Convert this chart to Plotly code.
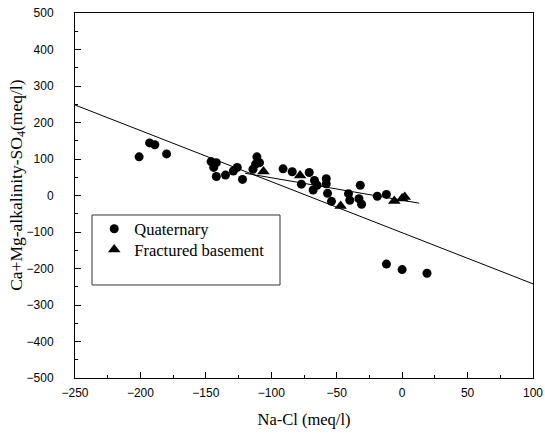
import plotly.graph_objects as go

# Quaternary samples
quat_x = [-201, -193, -189, -180, -146, -142, -144, -142, -135, -129, -126, -122,
          -114, -112, -111, -109, -91, -84, -71, -77, -67, -65, -68, -58, -58, -57,
          -54, -41, -40, -32, -33, -31, -19, -12, -12, 0, 19]
quat_y = [106, 144, 139, 114, 93, 90, 77, 52, 56, 67, 77, 44,
          72, 86, 106, 90, 73, 65, 63, 31, 41, 28, 15, 46, 32, 6,
          -16, 5, -13, 28, -9, -24, -2, 3, -188, -203, -213]

# Fractured basement samples
base_x = [-106, -78, -47, -6, 0, 2]
base_y = [66, 55, -29, -15, -8, -4]

# Trend lines
fit_all_x = [-250, 100]
fit_all_y = [248, -242]
fit_short_x = [-120, 13]
fit_short_y = [61, -21]

x_range = [-250, 100]
y_range = [-500, 500]

serif = "Liberation Serif, Times New Roman, serif"
sans = "Liberation Sans, Arial, sans-serif"

fig = go.Figure()
fig.add_trace(go.Scatter(x=fit_all_x, y=fit_all_y, mode="lines",
                         line=dict(color="black", width=1), showlegend=False,
                         hoverinfo="skip"))
fig.add_trace(go.Scatter(x=fit_short_x, y=fit_short_y, mode="lines",
                         line=dict(color="black", width=1), showlegend=False,
                         hoverinfo="skip"))
fig.add_trace(go.Scatter(x=quat_x, y=quat_y, mode="markers", name="Quaternary",
                         legend="legend",
                         marker=dict(symbol="circle", size=9, color="black")))
fig.add_trace(go.Scatter(x=base_x, y=base_y, mode="markers", name="Fractured basement",
                         legend="legend2",
                         marker=dict(symbol="triangle-up", size=11, color="black")))

fig.add_shape(type="rect", xref="paper", yref="paper",
              x0=0.0371, x1=0.4476, y0=0.2548, y1=0.4466,
              line=dict(color="#333333", width=1), fillcolor="white", layer="below")

fig.add_annotation(text="Ca+Mg-alkalinity-SO<sub>4</sub>(meq/l)",
                   xref="paper", yref="paper", x=-0.126, y=0.53,
                   xanchor="center", yanchor="middle", textangle=-90,
                   showarrow=False,
                   font=dict(family=serif, size=17.5, color="black"))

leg_common = dict(xanchor="left", yanchor="middle",
                  bgcolor="rgba(0,0,0,0)", borderwidth=0,
                  font=dict(family=serif, size=16.5, color="black"))

fig.update_layout(
    width=545, height=434,
    margin=dict(l=75, r=12, t=13, b=56, autoexpand=False),
    paper_bgcolor="white", plot_bgcolor="white",
    showlegend=True,
    legend=dict(x=0.042, y=0.408, **leg_common),
    legend2=dict(x=0.042, y=0.351, **leg_common),
    xaxis=dict(range=x_range, dtick=50, tick0=-250, showgrid=False, zeroline=False,
               automargin=False,
               showline=True, linecolor="black", linewidth=1, mirror=True,
               ticks="inside", ticklen=6, tickcolor="black",
               minor=dict(ticks="inside", dtick=25, ticklen=3, tickcolor="black"),
               tickfont=dict(family=sans, size=12, color="black"),
               ticklabelstandoff=4,
               title=dict(text="Na-Cl (meq/l)", font=dict(family=serif, size=16.5, color="black"),
                          standoff=14)),
    yaxis=dict(range=y_range, dtick=100, showgrid=False, zeroline=False,
               automargin=False,
               showline=True, linecolor="black", linewidth=1, mirror=True,
               ticks="inside", ticklen=6, tickcolor="black",
               minor=dict(ticks="inside", dtick=50, ticklen=3, tickcolor="black"),
               tickfont=dict(family=sans, size=12, color="black"),
               ticklabelstandoff=18),
)

fig.write_html("out.html", config={"displayModeBar": False},
               post_script="document.body.style.margin='0';document.body.style.padding='0';")
